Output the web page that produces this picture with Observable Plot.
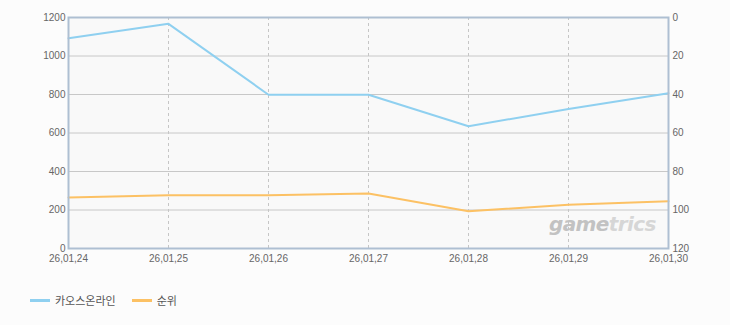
<!DOCTYPE html>
<html>
<head>
<meta charset="utf-8">
<script src="https://cdn.jsdelivr.net/npm/d3@7"></script>
<script src="https://cdn.jsdelivr.net/npm/@observablehq/plot@0.6"></script>
<style>
  html, body { margin: 0; padding: 0; background: #fcfcfc; }
  #wrap { position: relative; width: 730px; height: 325px; font-family: "Liberation Sans", Arial, sans-serif; }
  #legend { position: absolute; left: 30px; top: 292px; display: flex; align-items: center; font-family: "Noto Sans CJK KR", sans-serif; font-size: 11px; color: #555; }
  .item { display: flex; align-items: center; margin-right: 16px; }
  .sw { width: 20px; height: 3px; margin-right: 5px; }
  #wm { position: absolute; left: 549px; top: 212px; font-family: "DejaVu Sans", sans-serif; font-weight: bold; font-style: italic; font-size: 20px; letter-spacing: -0.6px; color: #c2c2c2; }
  #wm span { color: #d6d6d6; }
</style>
</head>
<body>
<div id="wrap">
  <div id="chart"></div>
  <div id="wm">game<span>trics</span></div>
  <div id="legend"></div>
</div>
<script>
const dates = ["26,01,24", "26,01,25", "26,01,26", "26,01,27", "26,01,28", "26,01,29", "26,01,30"];
const seriesNames = ["카오스온라인", "순위"];
const seriesColors = ["#8fd0f0", "#fcc164"];
const playValues = [1092, 1167, 799, 799, 635, 725, 807];
const rankValues = [93.5, 92.3, 92.3, 91.4, 100.6, 97.3, 95.4];
const leftTicks = [0, 200, 400, 600, 800, 1000, 1200];
const rightTicks = [0, 20, 40, 60, 80, 100, 120];

// Right axis (rank, reversed 0..120) mapped onto the left scale 1200..0
const rankToLeft = r => 1200 - r * 10;

const playData = dates.map((d, i) => ({date: d, v: playValues[i]}));
const rankData = dates.map((d, i) => ({date: d, v: rankToLeft(rankValues[i])}));

const chart = Plot.plot({
  width: 730,
  height: 280,
  marginLeft: 68,
  marginRight: 62,
  marginTop: 17,
  marginBottom: 32,
  style: {background: "transparent", fontFamily: "Liberation Sans, Arial, sans-serif", fontSize: "10px", color: "#666"},
  x: {type: "point", domain: dates, padding: 0},
  y: {domain: [0, 1200]},
  marks: [
    Plot.frame({fill: "#f9f9f9"}),
    Plot.gridY(leftTicks, {stroke: "#c8c8c8", strokeOpacity: 1, strokeWidth: 1}),
    Plot.ruleX(dates.slice(1, -1), {stroke: "#c6c6c6", strokeDasharray: "3,3", strokeWidth: 1}),
    Plot.line(rankData, {x: "date", y: "v", stroke: seriesColors[1], strokeWidth: 2}),
    Plot.line(playData, {x: "date", y: "v", stroke: seriesColors[0], strokeWidth: 2}),
    Plot.frame({stroke: "#aebfd2", strokeWidth: 2}),
    Plot.axisY(leftTicks, {anchor: "left", tickSize: 0, tickPadding: 3, label: null, fill: "#666", tickFormat: d => String(d)}),
    Plot.axisY(rightTicks.map(rankToLeft), {anchor: "right", tickSize: 0, tickPadding: 4, label: null, fill: "#666", tickFormat: d => String((1200 - d) / 10)}),
    Plot.axisX(dates, {anchor: "bottom", tickSize: 0, tickPadding: 6, label: null, fill: "#666"})
  ]
});
document.getElementById("chart").appendChild(chart);

const legend = document.getElementById("legend");
seriesNames.forEach((n, i) => {
  const it = document.createElement("div");
  it.className = "item";
  it.innerHTML = `<div class="sw" style="background:${seriesColors[i]}"></div><span>${n}</span>`;
  legend.appendChild(it);
});
</script>
</body>
</html>
